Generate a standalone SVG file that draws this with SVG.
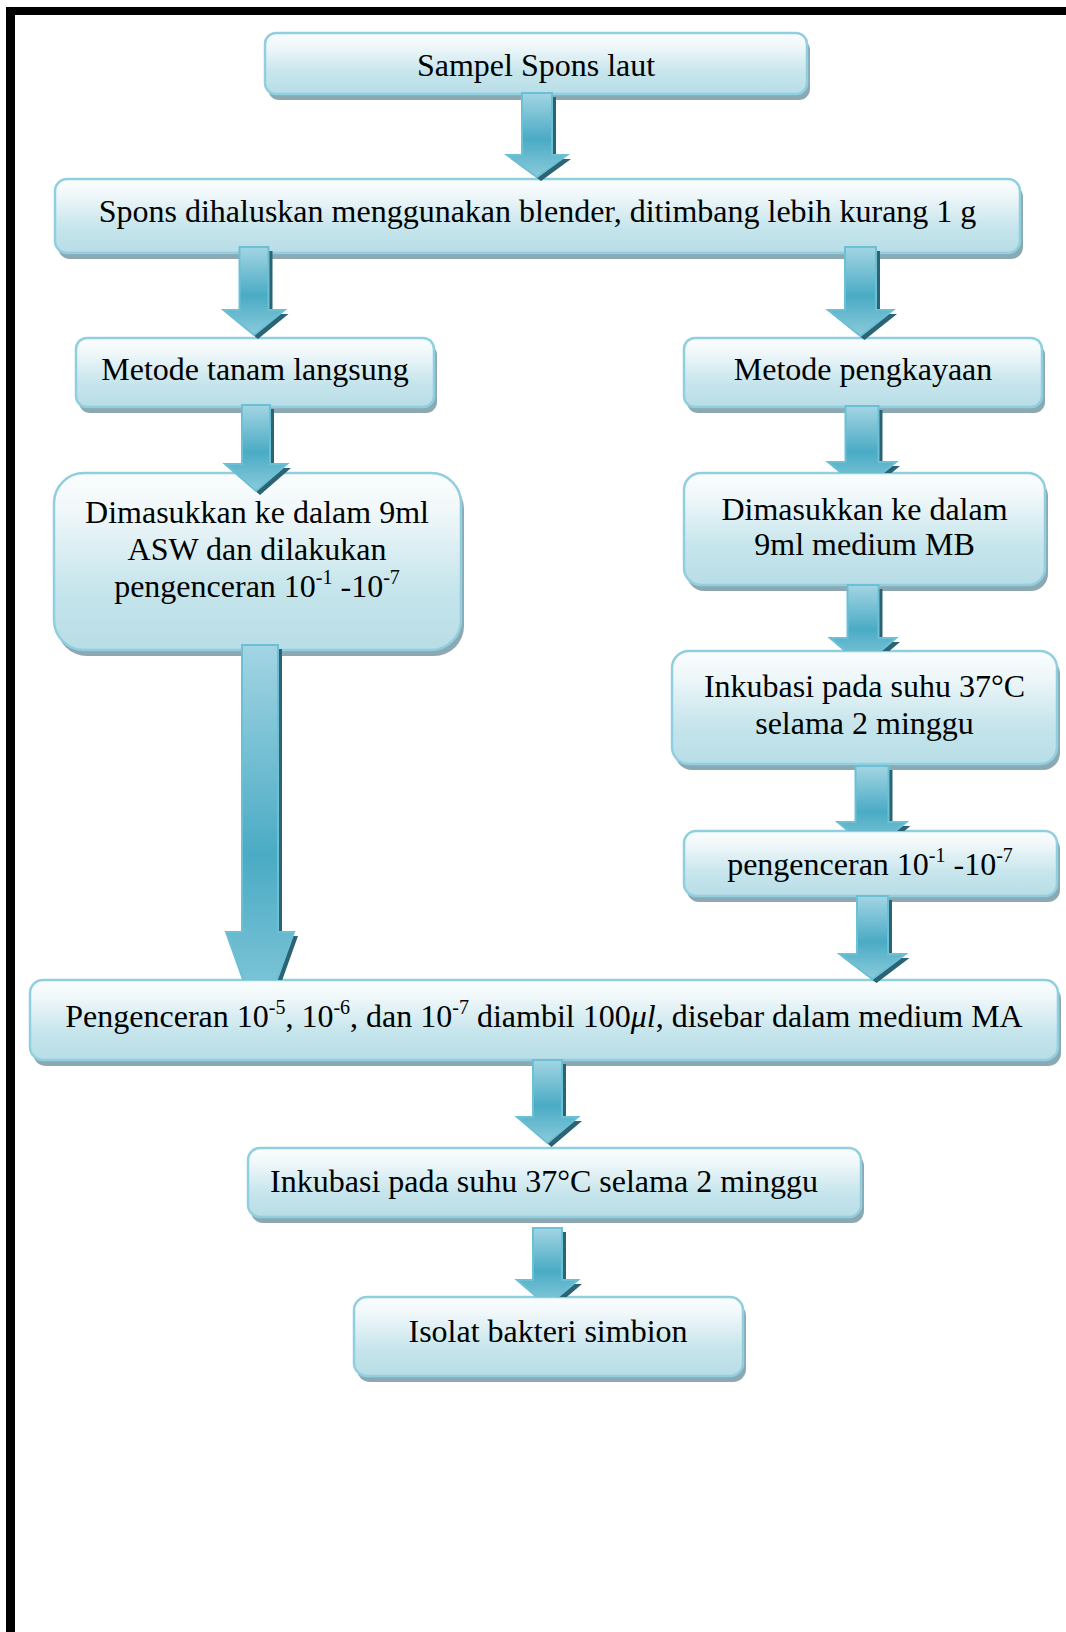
<svg xmlns="http://www.w3.org/2000/svg" xmlns:xlink="http://www.w3.org/1999/xlink" width="1066" height="1632" viewBox="0 0 1066 1632">
<style>
.box{fill:url(#bg);stroke:#8fcfdf;stroke-width:2.5}
.sh{fill:#8ca9b3}
.t{font-family:"Liberation Serif","Times New Roman",serif;font-size:32px;fill:#000;text-anchor:middle}
.sup{font-size:20px}
.arr{fill:url(#ag);stroke:#6cc0d6;stroke-width:2}
.ash{fill:#2c6474}
</style>
<defs>
<linearGradient id="bg" x1="0" y1="0" x2="0" y2="1">
<stop offset="0" stop-color="#fafdfe"/>
<stop offset="0.2" stop-color="#f1f8fa"/>
<stop offset="0.65" stop-color="#c6e5ec"/>
<stop offset="1" stop-color="#b8dde6"/>
</linearGradient>
<linearGradient id="ag" x1="0" y1="0" x2="0" y2="1">
<stop offset="0" stop-color="#a3d5e3"/>
<stop offset="0.55" stop-color="#4aabc5"/>
<stop offset="1" stop-color="#8acbdb"/>
</linearGradient>
<path id="p1" d="M522,93 H552 V155 H567 L537,177 L507,155 H522 Z"/>
<path id="p2" d="M239.5,247 H268.5 V310 H284.5 L254,335 L223.5,310 H239.5 Z"/>
<path id="p3" d="M845,247 H876 V310 H893 L860.5,336 L828,310 H845 Z"/>
<path id="p4" d="M242,405 H270 V464 H287 L256,491 L225,464 H242 Z"/>
<path id="p5" d="M845.5,406 H878.5 V462 H896 L862,490 L828,462 H845.5 Z"/>
<path id="p6" d="M847.5,585 H878.5 V638 H896 L863,666 L830,638 H847.5 Z"/>
<path id="p7" d="M855.5,766 H888.5 V822 H906.5 L872,850 L837.5,822 H855.5 Z"/>
<path id="p8" d="M857,896 H888 V954 H905.5 L872.5,979 L839.5,954 H857 Z"/>
<path id="p9" d="M242,645 H278 V932 H294 L260,1027 L226,932 H242 Z"/>
<path id="p10" d="M533,1060 H562 V1117 H578 L547.5,1143 L517,1117 H533 Z"/>
<path id="p11" d="M533,1228 H562 V1280 H578 L547.5,1306 L517,1280 H533 Z"/>
<clipPath id="c5"><rect x="0" y="0" width="1066" height="473"/></clipPath>
<clipPath id="c6"><rect x="0" y="0" width="1066" height="651"/></clipPath>
<clipPath id="c7"><rect x="0" y="0" width="1066" height="831"/></clipPath>
<clipPath id="c9"><rect x="0" y="0" width="1066" height="980"/></clipPath>
<clipPath id="c11"><rect x="0" y="0" width="1066" height="1297"/></clipPath>
</defs>
<rect x="0" y="0" width="1066" height="1632" fill="#ffffff"/>
<g id="frame">
<rect x="6" y="7" width="1060" height="8" fill="#000"/>
<rect x="6" y="7" width="9" height="1625" fill="#000"/>
</g>
<g id="n1">
<rect class="sh" x="268" y="39" width="542" height="61" rx="11"/>
<rect class="box" x="265" y="33" width="542" height="61" rx="11"/>
<text class="t" x="536" y="76">Sampel Spons laut</text>
</g>
<g id="n2">
<rect class="sh" x="58" y="185" width="965" height="74" rx="12"/>
<rect class="box" x="55" y="179" width="965" height="74" rx="12"/>
<text class="t" x="537.5" y="222">Spons dihaluskan menggunakan blender, ditimbang lebih kurang 1 g</text>
</g>
<g id="n3">
<rect class="sh" x="79" y="344" width="358" height="69" rx="11"/>
<rect class="box" x="76" y="338" width="358" height="69" rx="11"/>
<text class="t" x="255" y="380">Metode tanam langsung</text>
</g>
<g id="n4">
<rect class="sh" x="687" y="344" width="358" height="69" rx="11"/>
<rect class="box" x="684" y="338" width="358" height="69" rx="11"/>
<text class="t" x="863" y="380">Metode pengkayaan</text>
</g>
<g id="n5">
<rect class="sh" x="57" y="479" width="407" height="177" rx="30"/>
<rect class="box" x="54" y="473" width="407" height="177" rx="30"/>
<text class="t" x="257" y="523">Dimasukkan ke dalam 9ml</text>
<text class="t" x="257" y="560">ASW dan dilakukan</text>
<text class="t" x="257" y="597">pengenceran 10<tspan class="sup" dy="-13">-1</tspan><tspan dy="13"> -10</tspan><tspan class="sup" dy="-13">-7</tspan></text>
</g>
<g id="n6">
<rect class="sh" x="687" y="479" width="361" height="112" rx="17"/>
<rect class="box" x="684" y="473" width="361" height="112" rx="17"/>
<text class="t" x="864.5" y="520">Dimasukkan ke dalam</text>
<text class="t" x="864.5" y="555">9ml medium MB</text>
</g>
<g id="n7">
<rect class="sh" x="675" y="657" width="385" height="113" rx="17"/>
<rect class="box" x="672" y="651" width="385" height="113" rx="17"/>
<text class="t" x="864.5" y="697">Inkubasi pada suhu 37°C</text>
<text class="t" x="864.5" y="734">selama 2 minggu</text>
</g>
<g id="n8">
<rect class="sh" x="687" y="837" width="373" height="65" rx="12"/>
<rect class="box" x="684" y="831" width="373" height="65" rx="12"/>
<text class="t" x="870" y="875">pengenceran 10<tspan class="sup" dy="-13">-1</tspan><tspan dy="13"> -10</tspan><tspan class="sup" dy="-13">-7</tspan></text>
</g>
<g id="n9">
<rect class="sh" x="33" y="986" width="1028" height="80" rx="13"/>
<rect class="box" x="30" y="980" width="1028" height="80" rx="13"/>
<text class="t" x="544" y="1027">Pengenceran 10<tspan class="sup" dy="-13">-5</tspan><tspan dy="13">, 10</tspan><tspan class="sup" dy="-13">-6</tspan><tspan dy="13">, dan 10</tspan><tspan class="sup" dy="-13">-7</tspan><tspan dy="13"> diambil 100</tspan><tspan font-style="italic">μl</tspan>, disebar dalam medium MA</text>
</g>
<g id="n10">
<rect class="sh" x="251" y="1154" width="613" height="69" rx="12"/>
<rect class="box" x="248" y="1148" width="613" height="69" rx="12"/>
<text class="t" x="544" y="1192">Inkubasi pada suhu 37°C selama 2 minggu</text>
</g>
<g id="n11">
<rect class="sh" x="357" y="1303" width="389" height="79" rx="13"/>
<rect class="box" x="354" y="1297" width="389" height="79" rx="13"/>
<text class="t" x="548" y="1342">Isolat bakteri simbion</text>
</g>
<g id="connectors">
<g><use xlink:href="#p1" class="ash" transform="translate(4,4)"/><use xlink:href="#p1" class="arr"/></g>
<g><use xlink:href="#p2" class="ash" transform="translate(4,4)"/><use xlink:href="#p2" class="arr"/></g>
<g><use xlink:href="#p3" class="ash" transform="translate(4,4)"/><use xlink:href="#p3" class="arr"/></g>
<g><use xlink:href="#p4" class="ash" transform="translate(4,4)"/><use xlink:href="#p4" class="arr"/></g>
<g clip-path="url(#c5)"><use xlink:href="#p5" class="ash" transform="translate(4,4)"/><use xlink:href="#p5" class="arr"/></g>
<g clip-path="url(#c6)"><use xlink:href="#p6" class="ash" transform="translate(4,4)"/><use xlink:href="#p6" class="arr"/></g>
<g clip-path="url(#c7)"><use xlink:href="#p7" class="ash" transform="translate(4,4)"/><use xlink:href="#p7" class="arr"/></g>
<g><use xlink:href="#p8" class="ash" transform="translate(4,4)"/><use xlink:href="#p8" class="arr"/></g>
<g clip-path="url(#c9)"><use xlink:href="#p9" class="ash" transform="translate(4,4)"/><use xlink:href="#p9" class="arr"/></g>
<g><use xlink:href="#p10" class="ash" transform="translate(4,4)"/><use xlink:href="#p10" class="arr"/></g>
<g clip-path="url(#c11)"><use xlink:href="#p11" class="ash" transform="translate(4,4)"/><use xlink:href="#p11" class="arr"/></g>
</g>
</svg>
